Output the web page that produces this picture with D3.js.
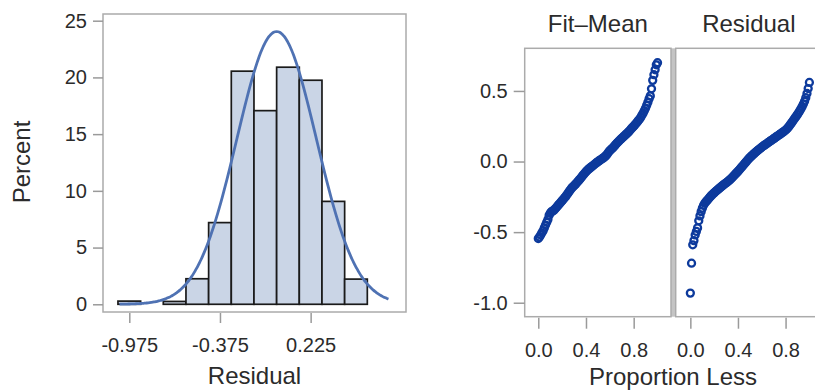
<!DOCTYPE html>
<html>
<head>
<meta charset="utf-8">
<script src="https://cdn.jsdelivr.net/npm/d3@7"></script>
<style>
  html, body { margin: 0; padding: 0; background: #fff; }
  svg { display: block; font-family: "Liberation Sans", Arial, sans-serif; }
</style>
</head>
<body>
<svg id="chart" width="815" height="392"></svg>
<script>
// ---------------- DATA ----------------
const binCenters = [-0.975, -0.825, -0.675, -0.525, -0.375, -0.225, -0.075, 0.075, 0.225, 0.375, 0.525];
const binPercents = [0.28, 0, 0.25, 2.25, 7.2, 20.55, 17.07, 20.9, 19.75, 9.07, 2.22];
const binWidth = 0.15;
const residualTicks = [-0.975, -0.375, 0.225];
const percentTicks = [0, 5, 10, 15, 20, 25];
const normalMean = 0.0;
const normalSigma = 0.263;
const normalPeak = 24.05;
const normalRange = [-1.04, 0.74];

const panelTitles = ["Fit\u2013Mean", "Residual"];
const fitMeanValues = [
  -0.545, -0.535, -0.520, -0.505, -0.490, -0.470, -0.450, -0.430, -0.410, -0.380,
  -0.365, -0.355, -0.350, -0.345, -0.335, -0.325, -0.315, -0.305, -0.295, -0.285,
  -0.275, -0.265, -0.255, -0.245, -0.232, -0.220, -0.208, -0.196, -0.185, -0.177,
  -0.168, -0.160, -0.150, -0.140, -0.130, -0.120, -0.110, -0.098, -0.088, -0.078,
  -0.068, -0.060, -0.052, -0.045, -0.038, -0.032, -0.025, -0.018, -0.010, -0.004,
   0.002,  0.008,  0.014,  0.020,  0.026,  0.032,  0.040,  0.050,  0.062,  0.074,
   0.082,  0.090,  0.098,  0.108,  0.118,  0.128,  0.136,  0.145,  0.154,  0.162,
   0.170,  0.178,  0.186,  0.194,  0.202,  0.210,  0.220,  0.230,  0.240,  0.248,
   0.258,  0.268,  0.278,  0.290,  0.300,  0.312,  0.328,  0.342,  0.360,  0.378,
   0.398,  0.420,  0.445,  0.465,  0.515,  0.575,  0.615,  0.650,  0.685,  0.700
];
const residualValues = [
  -0.932, -0.720, -0.590, -0.560, -0.520, -0.495, -0.470, -0.420, -0.385, -0.355,
  -0.330, -0.310, -0.295, -0.285, -0.275, -0.265, -0.255, -0.245, -0.236, -0.228,
  -0.220, -0.212, -0.205, -0.198, -0.190, -0.183, -0.176, -0.169, -0.162, -0.155,
  -0.150, -0.143, -0.136, -0.128, -0.120, -0.111, -0.102, -0.093, -0.084, -0.075,
  -0.066, -0.056, -0.046, -0.036, -0.026, -0.016, -0.006,  0.004,  0.014,  0.024,
   0.032,  0.040,  0.048,  0.056,  0.064,  0.071,  0.078,  0.085,  0.092,  0.099,
   0.106,  0.112,  0.118,  0.124,  0.130,  0.136,  0.142,  0.148,  0.154,  0.160,
   0.166,  0.172,  0.178,  0.184,  0.190,  0.196,  0.202,  0.208,  0.214,  0.221,
   0.229,  0.238,  0.248,  0.260,  0.272,  0.284,  0.296,  0.308,  0.320,  0.332,
   0.345,  0.359,  0.374,  0.390,  0.407,  0.427,  0.452,  0.482,  0.517,  0.560
];
const qqYTicks = [-1.0, -0.5, 0.0, 0.5];
const proportionTicks = [0.0, 0.4, 0.8];

// ---------------- STYLE ----------------
const frameColor = "#ababab";
const tickColor = "#9a9a9a";
const textColor = "#2b2b2b";
const barFill = "#cad5e6";
const curveColor = "#4f72b3";
const markerColor = "#0d3a9c";
const tickFont = 20;
const labelFont = 24;

const svg = d3.select("#chart");
const hyphen = f => (d => f(d).replace("\u2212", "-"));

function styleAxis(g) {
  g.select(".domain").remove();
  g.selectAll(".tick line").attr("stroke", tickColor).attr("stroke-width", 1.5);
  g.selectAll(".tick text").attr("fill", textColor).style("font-size", tickFont + "px");
}

// ---------------- HISTOGRAM ----------------
const H = { left: 103, right: 406, top: 14, bottom: 312 };
const hx = d3.scaleLinear().domain([-1.149, 0.856]).range([H.left, H.right]);
const hy = d3.scaleLinear().domain([-0.68, 25.59]).range([H.bottom, H.top]);

const hist = svg.append("g");
hist.append("rect")
  .attr("x", H.left).attr("y", H.top)
  .attr("width", H.right - H.left).attr("height", H.bottom - H.top)
  .attr("fill", "#fff").attr("stroke", frameColor).attr("stroke-width", 1.5);

const bins = binCenters.map((c, i) => ({ c, p: binPercents[i] }));
hist.selectAll("rect.bar").data(bins).join("rect")
  .attr("class", "bar")
  .attr("x", d => hx(d.c - binWidth / 2))
  .attr("width", d => hx(d.c + binWidth / 2) - hx(d.c - binWidth / 2))
  .attr("y", d => hy(d.p))
  .attr("height", d => hy(0) - hy(d.p))
  .attr("fill", barFill)
  .attr("stroke", "#1a1a1a").attr("stroke-width", 1.7);

const curvePts = d3.range(normalRange[0], normalRange[1] + 1e-9, 0.01).map(x => {
  const z = (x - normalMean) / normalSigma;
  return [x, normalPeak * Math.exp(-0.5 * z * z)];
});
hist.append("path")
  .datum(curvePts)
  .attr("fill", "none")
  .attr("stroke", curveColor)
  .attr("stroke-width", 2.8)
  .attr("d", d3.line().x(d => hx(d[0])).y(d => hy(d[1])).curve(d3.curveBasis));

hist.append("g").attr("transform", `translate(${H.left},0)`)
  .call(d3.axisLeft(hy).tickValues(percentTicks).tickSize(10).tickPadding(6).tickFormat(d3.format("d")))
  .call(styleAxis);
hist.append("g").attr("transform", `translate(0,${H.bottom + 1})`)
  .call(d3.axisBottom(hx).tickValues(residualTicks).tickSize(10).tickPadding(15).tickFormat(hyphen(d3.format(".3f"))))
  .call(styleAxis);

svg.append("text")
  .attr("transform", `translate(30,162) rotate(-90)`)
  .attr("text-anchor", "middle")
  .attr("fill", textColor).style("font-size", labelFont + "px")
  .text("Percent");
svg.append("text")
  .attr("x", (H.left + H.right) / 2).attr("y", 384)
  .attr("text-anchor", "middle")
  .attr("fill", textColor).style("font-size", labelFont + "px")
  .text("Residual");

// ---------------- RESIDUAL-FIT SPREAD ----------------
const Q = { top: 48.3, bottom: 316.7 };
const qy = d3.scaleLinear().domain([-1.099, 0.802]).range([Q.bottom, Q.top]);
const panels = [
  { title: panelTitles[0], values: fitMeanValues, x0: 524.7, x1: 671, dom: [-0.114, 1.113] },
  { title: panelTitles[1], values: residualValues, x0: 675.7, x1: 822, dom: [-0.123, 1.106] }
];

svg.append("rect")
  .attr("x", 670.5).attr("y", Q.top)
  .attr("width", 5.5).attr("height", Q.bottom - Q.top)
  .attr("fill", "#c4c4c4");

panels.forEach((P, k) => {
  const qx = d3.scaleLinear().domain(P.dom).range([P.x0, P.x1]);
  const g = svg.append("g");
  g.append("rect")
    .attr("x", P.x0).attr("y", Q.top)
    .attr("width", P.x1 - P.x0).attr("height", Q.bottom - Q.top)
    .attr("fill", "#fff").attr("stroke", frameColor).attr("stroke-width", 1.5);

  const n = P.values.length;
  g.selectAll("circle").data(P.values).join("circle")
    .attr("cx", (d, i) => qx(i / (n - 1)))
    .attr("cy", d => qy(d))
    .attr("r", 3.5)
    .attr("fill", "none")
    .attr("stroke", markerColor)
    .attr("stroke-width", 2.3);

  g.append("g").attr("transform", `translate(0,${Q.bottom + 1})`)
    .call(d3.axisBottom(qx).tickValues(proportionTicks).tickSize(11).tickPadding(14).tickFormat(d3.format(".1f")))
    .call(styleAxis);

  svg.append("text")
    .attr("x", (P.x0 + P.x1) / 2).attr("y", 32)
    .attr("text-anchor", "middle")
    .attr("fill", textColor).style("font-size", labelFont + "px")
    .text(P.title);
});

svg.append("g").attr("transform", `translate(${panels[0].x0},0)`)
  .call(d3.axisLeft(qy).tickValues(qqYTicks).tickSize(11).tickPadding(6).tickFormat(hyphen(d3.format(".1f"))))
  .call(styleAxis);

svg.append("text")
  .attr("x", 673).attr("y", 385)
  .attr("text-anchor", "middle")
  .attr("fill", textColor).style("font-size", labelFont + "px")
  .text("Proportion Less");
</script>
</body>
</html>
